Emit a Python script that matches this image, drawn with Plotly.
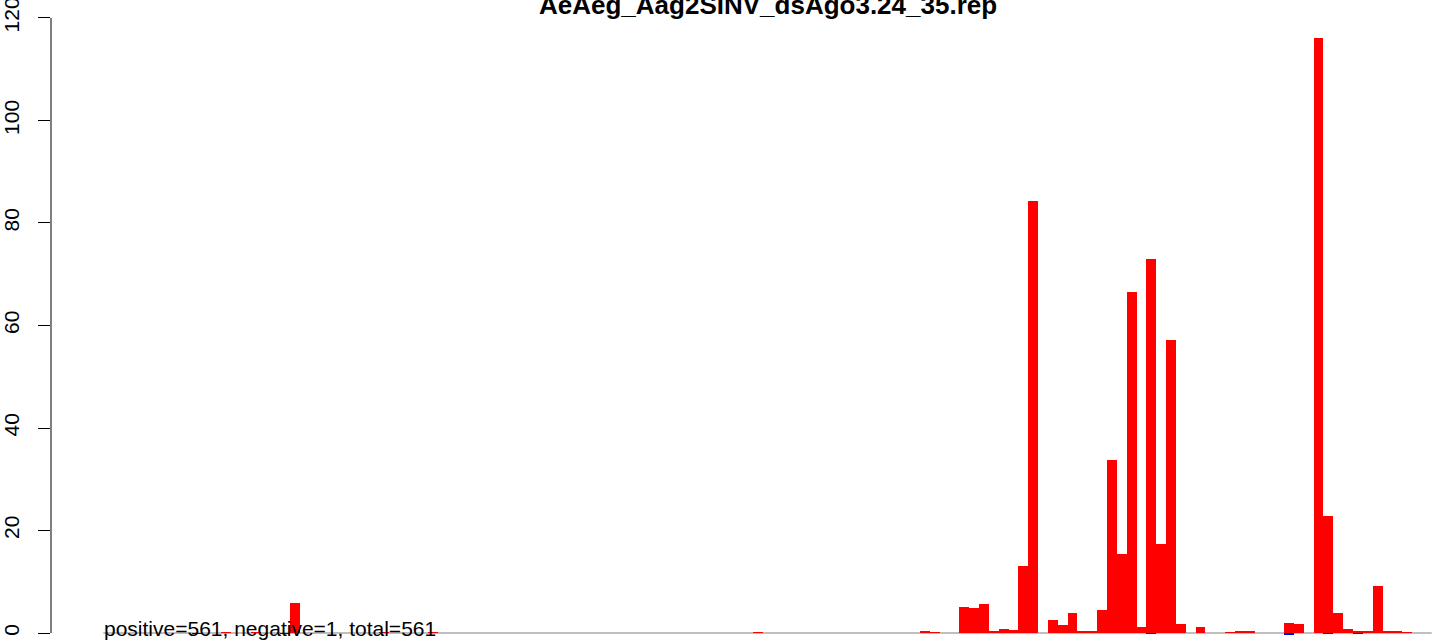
import plotly.graph_objects as go

# ---- data (bin index -> value) ----
title_text = "AeAeg_Aag2SINV_dsAgo3.24_35.rep"
summary_text = "positive=561, negative=1, total=561"

pos_bins = [12, 15, 19, 28, 33, 66, 83, 84, 87, 88, 89, 90, 91, 92, 93, 94,
            96, 97, 98, 99, 100, 101, 102, 103, 104, 105, 106, 107, 108, 109,
            111, 114, 115, 116, 120, 121, 123, 124, 125, 126, 127, 128, 129,
            130, 131, 132]
pos_vals = [0.15, 0.1, 5.8, 0.15, 0.1, 0.1, 0.3, 0.1, 5.1, 4.9, 5.7, 0.25, 0.8, 0.6, 13.0, 84.3,
            2.6, 1.6, 3.9, 0.25, 0.25, 4.5, 33.8, 15.4, 66.5, 1.2, 73.0, 17.4, 57.2, 1.8,
            1.2, 0.1, 0.25, 0.25, 1.9, 1.7, 116.1, 22.9, 4.0, 0.85, 0.3, 0.3, 9.2,
            0.3, 0.45, 0.1]

neg_bins = [9, 18, 106, 120, 124, 127]
neg_vals = [-0.1, -0.1, -0.12, -0.45, -0.12, -0.12]

y_ticks = [0, 20, 40, 60, 80, 100, 120]
n_bins = 135

fig = go.Figure()
fig.add_trace(go.Bar(x=[b + 0.5 for b in pos_bins], y=pos_vals, width=1,
                     marker=dict(color="#FF0000", line=dict(width=0)),
                     showlegend=False, hoverinfo="skip"))
fig.add_trace(go.Bar(x=[b + 0.5 for b in neg_bins], y=neg_vals, width=1,
                     marker=dict(color="#0000FF", line=dict(width=0)),
                     showlegend=False, hoverinfo="skip"))

# baseline (gray) under the bars
fig.add_shape(type="line", xref="x", yref="y", x0=0, x1=n_bins, y0=0, y1=0,
              line=dict(color="#AAAAAA", width=1.5), layer="below")
# y axis line from first to last tick
fig.add_shape(type="line", xref="paper", yref="y", x0=0, x1=0,
              y0=y_ticks[0], y1=y_ticks[-1],
              line=dict(color="black", width=1))

fig.add_annotation(text=summary_text, xref="x", yref="y", x=0, y=0,
                   xanchor="left", yanchor="bottom", showarrow=False,
                   xshift=-1, yshift=-9,
                   font=dict(family="Liberation Sans, Arial", size=21, color="black"))

fig.add_annotation(text="<b>" + title_text + "</b>", xref="paper", yref="paper",
                   x=(768 - 51) / (1433 - 51), y=1, xanchor="center", yanchor="middle",
                   showarrow=False, yshift=-5,
                   font=dict(family="Liberation Sans, Arial", size=26, color="black"))

fig.update_layout(
    width=1433, height=641,
    margin=dict(l=51, r=0, t=0, b=0, pad=0, autoexpand=False),
    paper_bgcolor="white", plot_bgcolor="white",
    barmode="overlay", bargap=0,
    xaxis=dict(range=[(51 - 103.3) / 9.84, (1433 - 103.3) / 9.84], visible=False,
               fixedrange=True, automargin=False),
    yaxis=dict(range=[-1.561, 123.51], tickvals=y_ticks,
               ticktext=[str(v) for v in y_ticks], automargin=False,
               showgrid=False, zeroline=False, showline=False,
               ticks="outside", ticklen=12, tickwidth=1, tickcolor="black",
               tickangle=-90, ticklabelstandoff=11, ticklabeloverflow="allow",
               tickfont=dict(family="Liberation Sans, Arial", size=21, color="black")),
)

fig.write_html("out.html", config={"displayModeBar": False},
               post_script="document.body.style.margin='0px';")
